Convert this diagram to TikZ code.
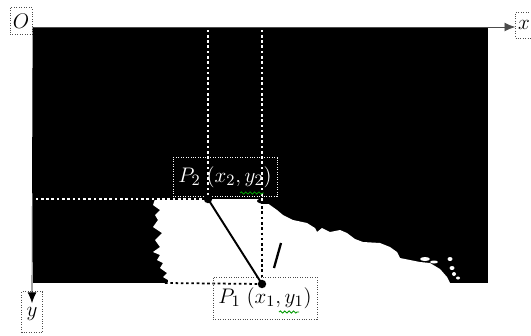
\documentclass[tikz,border=0pt]{standalone}
\usepackage{tikz}
\usetikzlibrary{arrows.meta,decorations.pathmorphing}
\tikzset{
  dotline/.style={preaction={draw=white,line width=1pt},draw=black,line width=1pt,dash pattern=on 1.5pt off 1.5pt},
  labbox/.style={draw=black!70,densely dotted,inner sep=1pt,font=\fontsize{13}{15}\selectfont},
  squiggle/.style={green!60!black,line width=0.5pt,decorate,decoration={snake,amplitude=0.6pt,segment length=2.5pt}}
}
\begin{document}
\begin{tikzpicture}[>={Latex[length=6pt,width=5pt]},x=0.02cm,y=-0.02cm]
  \useasboundingbox (0,0) rectangle (531,335);
  % binary image
  \fill[black] (33,27) rectangle (488,283);
  \fill[white] (155,199) -- (250,199) -- (262,199) -- (270,205) -- (277,210) -- (283,215)
    -- (293,220) -- (307,223) -- (315,228) -- (317,232) -- (322,228) -- (330,232)
    -- (340,230) -- (347,233) -- (355,239) -- (363,242) -- (380,243) -- (390,247)
    -- (397,252) -- (400,258) -- (410,260) -- (420,262) -- (430,263) -- (440,269)
    -- (447,277) -- (450,283) -- (168,283) -- (168,280) -- (163,277) -- (167,273)
    -- (160,268) -- (163,263) -- (157,260) -- (160,255) -- (153,252) -- (160,247)
    -- (155,240) -- (162,233) -- (153,227) -- (158,220) -- (155,215) -- (160,210)
    -- (153,205) -- cycle;
  \fill[black] (266,201) ellipse [x radius=9,y radius=3];
  \foreach \px/\py/\rx/\ry in {425/259/5/2,434/262/4/1.5,450/259/2.5/2,452/268/2.5/2,454/274/2/2,458/278/2/1.5}
    \fill[white] (\px,\py) ellipse [x radius=\rx,y radius=\ry];
  % points
  \coordinate (org) at (33,27);
  \coordinate (p2) at (208,199);
  \coordinate (p1) at (262,284);
  \coordinate (ytip) at (32,303);
  \coordinate (top2) at (208,27);
  \coordinate (top1) at (262,27);
  \coordinate (left2) at (33,199);
  \coordinate (left1) at (165,283);
  % projections
  \draw[dotline] (top2) -- (p2);
  \draw[dotline] (top1) -- (p1);
  \draw[dotline] (left2) -- (p2);
  \draw[dotline] (left1) -- (p1);
  % labels
  \node[labbox,minimum width=0.44cm,minimum height=0.54cm] (olab) at (21,21) {$O$};
  \node[labbox,minimum width=0.34cm,minimum height=0.52cm] (xlab) at (524,25) {$x$};
  \node[labbox,minimum width=0.42cm,minimum height=0.82cm,text depth=0pt,anchor=south] (ylab) at (32,333) {$y$};
  \node[labbox,draw=white,text=white,minimum width=2.08cm,minimum height=0.78cm] (p2lab) at (225,177) {$P_2\;(x_2,y_2)$};
  \node[labbox,minimum width=2.08cm,minimum height=0.84cm] (p1lab) at (265,298) {$P_1\;(x_1,y_1)$};
  % axes
  \draw[->,black!70] (org) -- (org -| xlab.west);
  \draw[->] (org) -- (ytip);
  % line
  \draw[line width=1.1pt] (p2) -- (p1);
  \fill (p2) circle (2.4pt);
  \fill (p1) circle (2.4pt);
  \draw[line width=1.3pt] (281,243) -- (274,268);
  % spell marks
  \draw[squiggle] (279,312) -- (299,312);
  \draw[squiggle] (240,193) -- (264,193);
\end{tikzpicture}
\end{document}
